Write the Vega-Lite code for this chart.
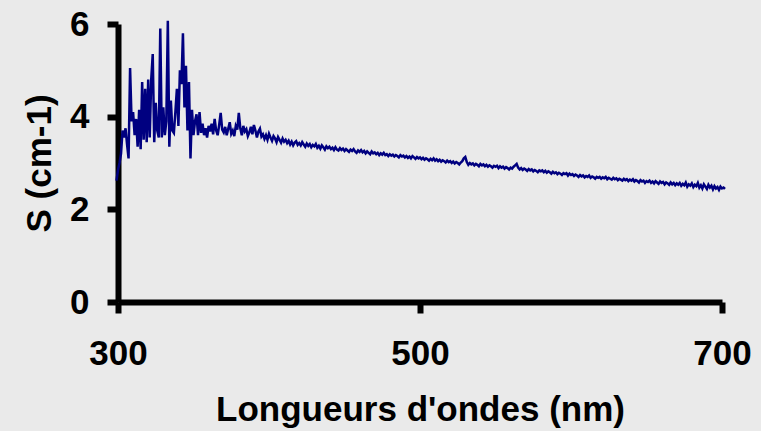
{
  "$schema": "https://vega.github.io/schema/vega-lite/v6.json",
  "width": 604,
  "height": 278,
  "autosize": {"type": "none"},
  "padding": {"left": 118, "top": 24, "right": 39, "bottom": 129},
  "background": "#eaeaea",
  "config": {
    "view": {"stroke": null},
    "axis": {
      "grid": false,
      "domainColor": "#000000",
      "domainWidth": 6,
      "tickColor": "#000000",
      "tickWidth": 6,
      "tickSize": 11,
      "labelFont": "Liberation Sans",
      "labelFontWeight": "bold",
      "labelFontSize": 35,
      "labelColor": "#000000",
      "titleFont": "Liberation Sans",
      "titleFontWeight": "bold",
      "titleFontSize": 35,
      "titleColor": "#000000"
    }
  },
  "data": {
    "values": [
      {"nm":299,"S":2.62},{"nm":300,"S":2.85},{"nm":301,"S":3.0},{"nm":302,"S":3.2},{"nm":303,"S":3.7},{"nm":304,"S":3.55},
      {"nm":305,"S":3.75},{"nm":306,"S":3.4},{"nm":307,"S":3.1},{"nm":308,"S":5.05},{"nm":309,"S":3.9},
      {"nm":310,"S":4.1},{"nm":311,"S":3.6},{"nm":312,"S":3.95},{"nm":313,"S":3.35},{"nm":314,"S":4.15},
      {"nm":315,"S":3.3},{"nm":316,"S":4.75},{"nm":317,"S":3.5},{"nm":318,"S":4.6},{"nm":319,"S":3.45},
      {"nm":320,"S":4.8},{"nm":321,"S":3.55},{"nm":322,"S":4.8},{"nm":323,"S":5.35},{"nm":324,"S":3.45},
      {"nm":325,"S":4.3},{"nm":326,"S":3.7},{"nm":327,"S":3.55},{"nm":328,"S":5.9},{"nm":329,"S":3.55},
      {"nm":330,"S":4.2},{"nm":331,"S":3.6},{"nm":332,"S":3.9},{"nm":333,"S":6.07},{"nm":334,"S":3.35},
      {"nm":335,"S":4.35},{"nm":336,"S":3.7},{"nm":337,"S":3.65},{"nm":338,"S":4.1},{"nm":339,"S":4.6},
      {"nm":340,"S":3.8},{"nm":341,"S":5.0},{"nm":342,"S":4.7},{"nm":343,"S":5.8},{"nm":344,"S":4.2},
      {"nm":345,"S":5.1},{"nm":346,"S":3.7},{"nm":347,"S":4.75},{"nm":348,"S":3.1},{"nm":349,"S":4.15},
      {"nm":350,"S":3.6},{"nm":351,"S":3.9},{"nm":352,"S":4.05},{"nm":353,"S":3.6},{"nm":354,"S":4.1},
      {"nm":355,"S":3.65},{"nm":356,"S":3.85},{"nm":357,"S":3.6},{"nm":358,"S":3.75},{"nm":359,"S":3.55},
      {"nm":360,"S":3.80},{"nm":361,"S":3.68},{"nm":362,"S":3.85},{"nm":363,"S":3.62},{"nm":364,"S":3.95},
      {"nm":365,"S":3.70},{"nm":366,"S":3.60},{"nm":367,"S":3.82},{"nm":368,"S":4.08},{"nm":369,"S":3.72},
      {"nm":370,"S":3.66},{"nm":371,"S":3.78},{"nm":372,"S":3.60},{"nm":373,"S":3.74},{"nm":374,"S":3.88},
      {"nm":375,"S":3.63},{"nm":376,"S":3.70},{"nm":377,"S":3.58},{"nm":378,"S":3.80},{"nm":379,"S":3.72},
      {"nm":380,"S":4.08},{"nm":381,"S":3.75},{"nm":382,"S":3.60},{"nm":383,"S":3.80},{"nm":384,"S":3.68},
      {"nm":385,"S":3.73},{"nm":386,"S":3.58},{"nm":387,"S":3.66},{"nm":388,"S":3.78},{"nm":389,"S":3.62},
      {"nm":390,"S":3.82},{"nm":391,"S":3.70},{"nm":392,"S":3.55},{"nm":393,"S":3.68},{"nm":394,"S":3.74},
      {"nm":395,"S":3.57},{"nm":396,"S":3.62},{"nm":397,"S":3.52},{"nm":398,"S":3.60},{"nm":399,"S":3.50},
      {"nm":400,"S":3.63},{"nm":401,"S":3.55},{"nm":402,"S":3.48},{"nm":403,"S":3.58},{"nm":404,"S":3.53},
      {"nm":405,"S":3.45},{"nm":406,"S":3.56},{"nm":407,"S":3.50},{"nm":408,"S":3.44},{"nm":409,"S":3.53},
      {"nm":410,"S":3.46},{"nm":411,"S":3.50},{"nm":412,"S":3.43},{"nm":413,"S":3.48},{"nm":414,"S":3.40},
      {"nm":415,"S":3.46},{"nm":416,"S":3.38},{"nm":417,"S":3.44},{"nm":418,"S":3.47},{"nm":419,"S":3.39},
      {"nm":420,"S":3.43},{"nm":421,"S":3.38},{"nm":422,"S":3.45},{"nm":423,"S":3.40},{"nm":424,"S":3.35},
      {"nm":425,"S":3.42},{"nm":426,"S":3.37},{"nm":427,"S":3.41},{"nm":428,"S":3.34},{"nm":429,"S":3.39},
      {"nm":430,"S":3.36},{"nm":431,"S":3.41},{"nm":432,"S":3.33},{"nm":433,"S":3.37},{"nm":434,"S":3.31},
      {"nm":435,"S":3.38},{"nm":436,"S":3.34},{"nm":437,"S":3.29},{"nm":438,"S":3.36},{"nm":439,"S":3.32},
      {"nm":440,"S":3.35},{"nm":441,"S":3.30},{"nm":442,"S":3.33},{"nm":443,"S":3.28},{"nm":444,"S":3.34},
      {"nm":445,"S":3.29},{"nm":446,"S":3.27},{"nm":447,"S":3.32},{"nm":448,"S":3.28},{"nm":449,"S":3.31},
      {"nm":450,"S":3.26},{"nm":451,"S":3.30},{"nm":452,"S":3.27},{"nm":453,"S":3.24},{"nm":454,"S":3.29},
      {"nm":455,"S":3.26},{"nm":456,"S":3.30},{"nm":457,"S":3.25},{"nm":458,"S":3.22},{"nm":459,"S":3.27},
      {"nm":460,"S":3.24},{"nm":461,"S":3.28},{"nm":462,"S":3.23},{"nm":463,"S":3.26},{"nm":464,"S":3.21},
      {"nm":465,"S":3.25},{"nm":466,"S":3.22},{"nm":467,"S":3.19},{"nm":468,"S":3.25},{"nm":469,"S":3.21},
      {"nm":470,"S":3.23},{"nm":471,"S":3.19},{"nm":472,"S":3.22},{"nm":473,"S":3.17},{"nm":474,"S":3.21},
      {"nm":475,"S":3.18},{"nm":476,"S":3.22},{"nm":477,"S":3.17},{"nm":478,"S":3.19},{"nm":479,"S":3.15},
      {"nm":480,"S":3.19},{"nm":481,"S":3.16},{"nm":482,"S":3.18},{"nm":483,"S":3.14},{"nm":484,"S":3.17},
      {"nm":485,"S":3.15},{"nm":486,"S":3.12},{"nm":487,"S":3.17},{"nm":488,"S":3.14},{"nm":489,"S":3.16},
      {"nm":490,"S":3.12},{"nm":491,"S":3.15},{"nm":492,"S":3.11},{"nm":493,"S":3.14},{"nm":494,"S":3.10},
      {"nm":495,"S":3.15},{"nm":496,"S":3.12},{"nm":497,"S":3.09},{"nm":498,"S":3.13},{"nm":499,"S":3.10},
      {"nm":500,"S":3.12},{"nm":501,"S":3.08},{"nm":502,"S":3.11},{"nm":503,"S":3.07},{"nm":504,"S":3.10},
      {"nm":505,"S":3.08},{"nm":506,"S":3.05},{"nm":507,"S":3.09},{"nm":508,"S":3.06},{"nm":509,"S":3.10},
      {"nm":510,"S":3.05},{"nm":511,"S":3.08},{"nm":512,"S":3.04},{"nm":513,"S":3.07},{"nm":514,"S":3.03},
      {"nm":515,"S":3.06},{"nm":516,"S":3.04},{"nm":517,"S":3.01},{"nm":518,"S":3.05},{"nm":519,"S":3.02},
      {"nm":520,"S":3.04},{"nm":521,"S":3.00},{"nm":522,"S":3.03},{"nm":523,"S":2.99},{"nm":524,"S":3.02},
      {"nm":525,"S":3.00},{"nm":526,"S":2.97},{"nm":527,"S":3.01},{"nm":528,"S":3.04},{"nm":529,"S":3.10},
      {"nm":530,"S":3.13},{"nm":531,"S":3.02},{"nm":532,"S":2.96},{"nm":533,"S":3.00},{"nm":534,"S":2.97},
      {"nm":535,"S":2.99},{"nm":536,"S":2.95},{"nm":537,"S":2.98},{"nm":538,"S":2.96},{"nm":539,"S":2.93},
      {"nm":540,"S":2.98},{"nm":541,"S":2.95},{"nm":542,"S":2.97},{"nm":543,"S":2.93},{"nm":544,"S":2.96},
      {"nm":545,"S":2.92},{"nm":546,"S":2.95},{"nm":547,"S":2.93},{"nm":548,"S":2.90},{"nm":549,"S":2.94},
      {"nm":550,"S":2.92},{"nm":551,"S":2.94},{"nm":552,"S":2.89},{"nm":553,"S":2.93},{"nm":554,"S":2.90},
      {"nm":555,"S":2.92},{"nm":556,"S":2.88},{"nm":557,"S":2.91},{"nm":558,"S":2.89},{"nm":559,"S":2.86},
      {"nm":560,"S":2.90},{"nm":561,"S":2.88},{"nm":562,"S":2.92},{"nm":563,"S":2.95},{"nm":564,"S":2.98},
      {"nm":565,"S":2.90},{"nm":566,"S":2.86},{"nm":567,"S":2.89},{"nm":568,"S":2.85},{"nm":569,"S":2.88},
      {"nm":570,"S":2.86},{"nm":571,"S":2.83},{"nm":572,"S":2.87},{"nm":573,"S":2.84},{"nm":574,"S":2.86},
      {"nm":575,"S":2.82},{"nm":576,"S":2.85},{"nm":577,"S":2.83},{"nm":578,"S":2.80},{"nm":579,"S":2.84},
      {"nm":580,"S":2.82},{"nm":581,"S":2.84},{"nm":582,"S":2.80},{"nm":583,"S":2.83},{"nm":584,"S":2.79},
      {"nm":585,"S":2.82},{"nm":586,"S":2.80},{"nm":587,"S":2.77},{"nm":588,"S":2.81},{"nm":589,"S":2.78},
      {"nm":590,"S":2.80},{"nm":591,"S":2.76},{"nm":592,"S":2.79},{"nm":593,"S":2.77},{"nm":594,"S":2.74},
      {"nm":595,"S":2.78},{"nm":596,"S":2.76},{"nm":597,"S":2.78},{"nm":598,"S":2.73},{"nm":599,"S":2.77},
      {"nm":600,"S":2.74},{"nm":601,"S":2.76},{"nm":602,"S":2.72},{"nm":603,"S":2.75},{"nm":604,"S":2.73},
      {"nm":605,"S":2.70},{"nm":606,"S":2.74},{"nm":607,"S":2.71},{"nm":608,"S":2.73},{"nm":609,"S":2.69},
      {"nm":610,"S":2.72},{"nm":611,"S":2.70},{"nm":612,"S":2.73},{"nm":613,"S":2.68},{"nm":614,"S":2.71},
      {"nm":615,"S":2.69},{"nm":616,"S":2.66},{"nm":617,"S":2.70},{"nm":618,"S":2.68},{"nm":619,"S":2.70},
      {"nm":620,"S":2.66},{"nm":621,"S":2.69},{"nm":622,"S":2.67},{"nm":623,"S":2.70},{"nm":624,"S":2.65},
      {"nm":625,"S":2.68},{"nm":626,"S":2.66},{"nm":627,"S":2.64},{"nm":628,"S":2.68},{"nm":629,"S":2.65},
      {"nm":630,"S":2.67},{"nm":631,"S":2.63},{"nm":632,"S":2.66},{"nm":633,"S":2.64},{"nm":634,"S":2.62},
      {"nm":635,"S":2.66},{"nm":636,"S":2.63},{"nm":637,"S":2.65},{"nm":638,"S":2.61},{"nm":639,"S":2.64},
      {"nm":640,"S":2.62},{"nm":641,"S":2.65},{"nm":642,"S":2.60},{"nm":643,"S":2.63},{"nm":644,"S":2.61},
      {"nm":645,"S":2.58},{"nm":646,"S":2.63},{"nm":647,"S":2.60},{"nm":648,"S":2.62},{"nm":649,"S":2.57},
      {"nm":650,"S":2.61},{"nm":651,"S":2.59},{"nm":652,"S":2.62},{"nm":653,"S":2.57},{"nm":654,"S":2.60},
      {"nm":655,"S":2.56},{"nm":656,"S":2.61},{"nm":657,"S":2.58},{"nm":658,"S":2.55},{"nm":659,"S":2.60},
      {"nm":660,"S":2.57},{"nm":661,"S":2.59},{"nm":662,"S":2.54},{"nm":663,"S":2.58},{"nm":664,"S":2.56},
      {"nm":665,"S":2.53},{"nm":666,"S":2.58},{"nm":667,"S":2.54},{"nm":668,"S":2.57},{"nm":669,"S":2.52},
      {"nm":670,"S":2.56},{"nm":671,"S":2.53},{"nm":672,"S":2.57},{"nm":673,"S":2.51},{"nm":674,"S":2.55},
      {"nm":675,"S":2.52},{"nm":676,"S":2.58},{"nm":677,"S":2.49},{"nm":678,"S":2.54},{"nm":679,"S":2.51},
      {"nm":680,"S":2.56},{"nm":681,"S":2.48},{"nm":682,"S":2.53},{"nm":683,"S":2.50},{"nm":684,"S":2.57},
      {"nm":685,"S":2.47},{"nm":686,"S":2.52},{"nm":687,"S":2.45},{"nm":688,"S":2.54},{"nm":689,"S":2.49},
      {"nm":690,"S":2.44},{"nm":691,"S":2.53},{"nm":692,"S":2.47},{"nm":693,"S":2.51},{"nm":694,"S":2.43},
      {"nm":695,"S":2.50},{"nm":696,"S":2.45},{"nm":697,"S":2.48},{"nm":698,"S":2.42},{"nm":699,"S":2.49},
      {"nm":700,"S":2.45},{"nm":701,"S":2.47},{"nm":702,"S":2.44}
    ]
  },
  "mark": {"type": "line", "color": "#000080", "strokeWidth": 2.5, "clip": false},
  "encoding": {
    "x": {
      "field": "nm", "type": "quantitative",
      "scale": {"domain": [300, 700], "nice": false},
      "axis": {"values": [300, 500, 700], "labelPadding": 23, "title": "Longueurs d'ondes (nm)", "titlePadding": 21, "labelFlush": false}
    },
    "y": {
      "field": "S", "type": "quantitative",
      "scale": {"domain": [0, 6], "nice": false},
      "axis": {"values": [0, 2, 4, 6], "labelPadding": 18, "title": "S (cm-1)", "titlePadding": 12}
    }
  }
}
